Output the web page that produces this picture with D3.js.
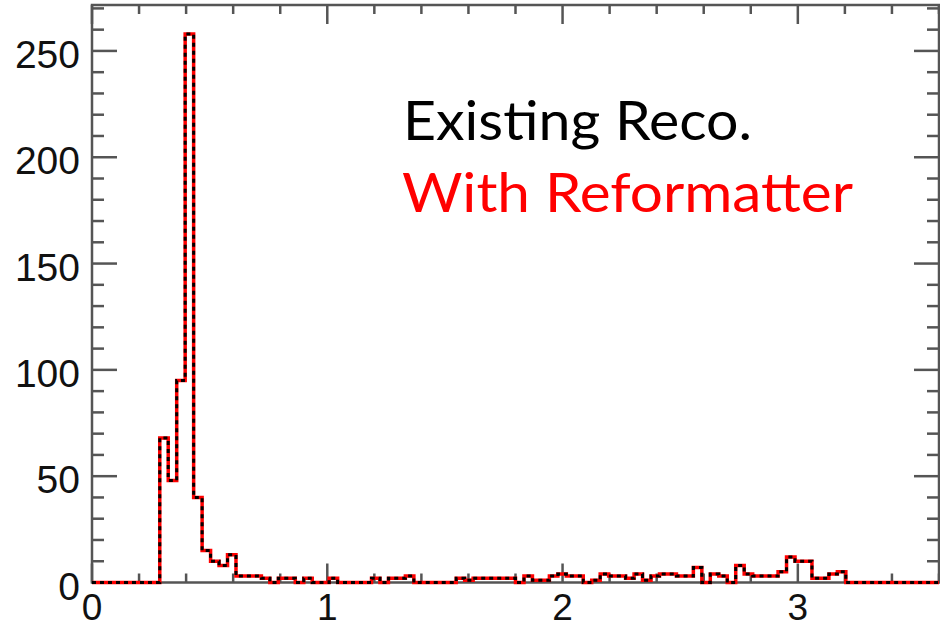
<!DOCTYPE html>
<html>
<head>
<meta charset="utf-8">
<script src="https://cdn.jsdelivr.net/npm/d3@7"></script>
<style>
  html, body { margin: 0; padding: 0; background: #fff; }
  svg { display: block; }
</style>
</head>
<body>
<div id="chart"></div>
<script>
// histogram: 100 bins between 0 and 3.6
var binStart = 0;
var binWidth = 0.036;
var counts = [
  0, 0, 0, 0, 0, 0, 0, 0, 68, 48,
  95, 258, 40, 15, 10, 8, 13, 3, 3, 3,
  2, 0, 2, 2, 0, 2, 0, 0, 2, 0,
  0, 0, 0, 2, 0, 2, 2, 3, 0, 0,
  0, 0, 0, 2, 1, 2, 2, 2, 2, 2,
  0, 3, 1, 1, 3, 4, 3, 3, 0, 1,
  4, 3, 3, 2, 4, 1, 3, 4, 4, 3,
  3, 7, 0, 4, 3, 0, 8, 4, 3, 3,
  3, 5, 12, 10, 10, 2, 2, 4, 5, 0,
  0, 0, 0, 0, 0, 0, 0, 0, 0, 0
];
var xTicks = [0, 1, 2, 3];
var yTicks = [0, 50, 100, 150, 200, 250];
var legendLabels = ['Existing Reco.', 'With Reformatter'];

var width = 940, height = 629;
// plot box (note: "top" is taken by window.top)
var plotL = 92, plotR = 939, plotT = 5, plotB = 582.5;

var svg = d3.select('#chart').append('svg')
  .attr('width', width)
  .attr('height', height);

var x = d3.scaleLinear().domain([0, 3.6]).range([plotL, plotR]);
var y = d3.scaleLinear().domain([0, 271.6]).range([plotB, plotT]);

// minor tick positions
var xMinor = d3.range(0, 3.61, 0.2).filter(function(d) { return Math.abs(d - Math.round(d)) > 1e-6; });
var yMinor = d3.range(0, 271, 10).filter(function(d) { return d % 50 !== 0; });

var axisColor = '#555';

function drawTicks(g, vals, len, axis) {
  g.selectAll(null)
    .data(vals)
    .enter()
    .append('line')
    .attr('stroke', axisColor)
    .attr('stroke-width', 2.5)
    .attr('x1', function(d) { return axis === 'x' ? x(d) : (len > 0 ? plotL : plotR); })
    .attr('x2', function(d) { return axis === 'x' ? x(d) : (len > 0 ? plotL + len : plotR + len); })
    .attr('y1', function(d) { return axis === 'y' ? y(d) : (len > 0 ? plotB : plotT); })
    .attr('y2', function(d) { return axis === 'y' ? y(d) : (len > 0 ? plotB - len : plotT - len); });
}

var ticks = svg.append('g');
drawTicks(ticks, xTicks, 19, 'x');
drawTicks(ticks, xTicks, -19, 'x');
drawTicks(ticks, xMinor, 9, 'x');
drawTicks(ticks, xMinor, -9, 'x');
drawTicks(ticks, yTicks, 25, 'y');
drawTicks(ticks, yTicks, -25, 'y');
drawTicks(ticks, yMinor, 12, 'y');
drawTicks(ticks, yMinor, -12, 'y');

// frame
svg.append('rect')
  .attr('x', plotL)
  .attr('y', plotT)
  .attr('width', plotR - plotL)
  .attr('height', plotB - plotT)
  .attr('fill', 'none')
  .attr('stroke', axisColor)
  .attr('stroke-width', 2.5);

// tick labels
svg.selectAll('.ylab')
  .data(yTicks)
  .enter()
  .append('text')
  .attr('class', 'ylab')
  .attr('x', 80)
  .attr('y', function(d) { return y(d) + 17; })
  .attr('text-anchor', 'end')
  .attr('font-family', 'Liberation Sans, Arial, sans-serif')
  .attr('font-size', 39)
  .attr('fill', '#111')
  .text(function(d) { return d; });

svg.selectAll('.xlab')
  .data(xTicks)
  .enter()
  .append('text')
  .attr('class', 'xlab')
  .attr('x', function(d) { return x(d); })
  .attr('y', 620)
  .attr('text-anchor', 'middle')
  .attr('font-family', 'Liberation Sans, Arial, sans-serif')
  .attr('font-size', 37)
  .attr('fill', '#111')
  .text(function(d) { return d; });

// step outline of the histogram
var pts = [[binStart, 0]];
counts.forEach(function(c, i) {
  var x0 = binStart + i * binWidth;
  pts.push([x0, c], [x0 + binWidth, c]);
});
pts.push([binStart + counts.length * binWidth, 0]);

var line = d3.line()
  .x(function(d) { return x(d[0]); })
  .y(function(d) { return y(d[1]); });

// red solid underneath, black dashes on top
svg.append('path')
  .attr('d', line(pts))
  .attr('fill', 'none')
  .attr('stroke', '#ff0000')
  .attr('stroke-width', 3.5);

svg.append('path')
  .attr('d', line(pts))
  .attr('fill', 'none')
  .attr('stroke', '#000')
  .attr('stroke-width', 3)
  .attr('stroke-dasharray', '4,4');

// legend text
svg.append('text')
  .attr('x', 403)
  .attr('y', 140)
  .attr('font-family', 'Lato, sans-serif')
  .attr('font-size', 54)
  .attr('fill', '#000')
  .attr('textLength', 349)
  .attr('lengthAdjust', 'spacingAndGlyphs')
  .text(legendLabels[0]);

svg.append('text')
  .attr('x', 402)
  .attr('y', 212)
  .attr('font-family', 'Lato, sans-serif')
  .attr('font-size', 54)
  .attr('fill', '#ff0000')
  .attr('textLength', 451)
  .attr('lengthAdjust', 'spacingAndGlyphs')
  .text(legendLabels[1]);
</script>
</body>
</html>
